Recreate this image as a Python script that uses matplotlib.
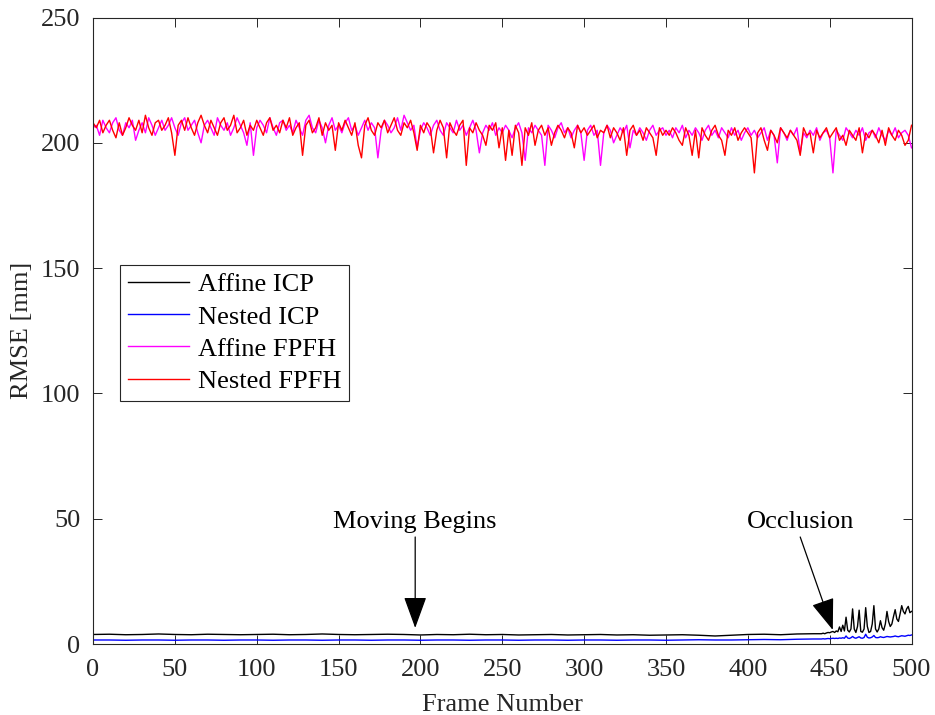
import numpy as np
import matplotlib
matplotlib.use("Agg")
import matplotlib.pyplot as plt

plt.rcParams['font.family'] = ['Liberation Serif', 'DejaVu Serif']

# ---------------- data ----------------
fpfh_frames = np.arange(0, 501, 2)

nested_fpfh = [
    208, 206, 209, 204, 207, 209, 205, 202, 208, 203, 206, 210, 207, 205, 209, 204, 211, 206, 203, 208, 209, 205, 207, 210, 204,
    195, 207, 209, 205, 210, 206, 203, 208, 211, 207, 204, 209, 206, 203, 208, 210, 205, 207, 211, 204, 206, 209, 203, 207, 205,
    209, 206, 203, 208, 210, 205, 207, 204, 209, 206, 210, 203, 206, 208, 195, 207, 209, 204, 206, 210, 203, 208, 205, 207, 197,
    208, 205, 209, 206, 203, 208, 199, 194, 207, 210, 205, 203, 208, 206, 209, 204, 207, 210, 205, 203, 208, 206, 209, 204, 197,
    207, 204, 208, 206, 196, 205, 209, 206, 194, 208, 205, 203, 207, 209, 191, 206, 204, 208, 205, 203, 199, 207, 205, 208, 198,
    206, 193, 205, 195, 207, 204, 191, 206, 203, 208, 199, 205, 207, 203, 206, 199, 204, 207, 205, 202, 206, 204, 198, 207, 204,
    206, 203, 205, 207, 202, 205, 204, 207, 202, 206, 204, 201, 206, 195, 205, 207, 203, 205, 201, 206, 204, 202, 195, 206, 203,
    205, 203, 206, 204, 201, 199, 206, 203, 195, 205, 194, 206, 203, 201, 205, 207, 203, 201, 195, 205, 203, 206, 201, 204, 206,
    204, 202, 188, 204, 206, 201, 197, 205, 203, 200, 206, 204, 202, 205, 203, 201, 195, 206, 203, 204, 196, 205, 202, 204, 206,
    202, 204, 206, 201, 203, 199, 205, 203, 201, 206, 196, 204, 202, 205, 203, 200, 205, 199, 206, 203, 201, 205, 203, 199, 201,
    207,
]

affine_fpfh = [
    206, 207, 203, 209, 206, 204, 208, 210, 205, 203, 208, 206, 209, 201, 205, 208, 204, 210, 207, 203, 206, 209, 205, 207, 210,
    206, 203, 208, 210, 205, 207, 209, 204, 200, 207, 209, 206, 203, 210, 207, 205, 208, 203, 206, 210, 207, 204, 199, 208, 195,
    206, 209, 207, 204, 210, 206, 203, 208, 209, 205, 207, 204, 209, 206, 203, 209, 211, 206, 204, 209, 206, 200, 207, 210, 205,
    207, 204, 208, 210, 205, 207, 203, 206, 209, 205, 208, 206, 194, 205, 209, 207, 204, 206, 210, 205, 211, 208, 205, 207, 198,
    205, 208, 206, 203, 207, 209, 205, 203, 208, 206, 204, 209, 205, 207, 203, 206, 209, 205, 196, 204, 207, 205, 208, 203, 206,
    204, 207, 205, 202, 206, 208, 204, 193, 206, 204, 207, 205, 203, 191, 207, 205, 202, 206, 208, 204, 206, 202, 205, 207, 204,
    193, 205, 207, 203, 205, 191, 204, 207, 205, 200, 203, 206, 204, 207, 198, 205, 203, 206, 204, 201, 205, 207, 203, 205, 206,
    203, 205, 202, 206, 204, 207, 202, 205, 203, 206, 204, 201, 205, 207, 203, 205, 202, 206, 204, 202, 206, 203, 205, 201, 204,
    206, 203, 205, 202, 204, 206, 201, 205, 203, 192, 206, 204, 201, 205, 203, 206, 196, 204, 202, 205, 203, 206, 201, 204, 205,
    202, 188, 205, 203, 201, 206, 204, 202, 205, 203, 206, 201, 204, 205, 202, 206, 203, 201, 205, 203, 206, 202, 204, 205, 203,
    198,
]

icp_frames = list(range(0, 441, 10)) + list(range(445, 501))

affine_icp = [
    3.8, 3.9, 3.7, 3.8, 4.0, 3.8, 3.7, 3.9, 3.8, 3.7, 3.8, 3.9, 3.7, 3.8, 4.0, 3.8, 3.7, 3.8, 3.9, 3.8,
    3.6, 3.8, 3.7, 3.9, 3.7, 3.8, 3.6, 3.7, 3.8, 3.6, 3.7, 3.8, 3.6, 3.7, 3.5, 3.6, 3.7, 3.5, 3.2, 3.5,
    3.8, 3.9, 3.7, 4.0, 4.1,
    4.1, 4.3, 4.1, 4.4, 4.6, 4.5, 4.8, 5.0, 4.6, 5.2, 4.9, 6.8, 5.0, 7.5, 5.2, 10.7, 5.5, 4.8, 6.0, 14.0,
    6.0, 4.6, 7.0, 13.5, 5.0, 4.7, 6.0, 14.5, 7.0, 4.6, 5.0, 8.0, 15.3, 6.0, 4.8, 6.0, 9.3, 6.5, 5.5, 8.0,
    13.0, 9.0, 7.0, 8.0, 11.0, 13.7, 10.0, 9.0, 12.0, 15.3, 13.0, 12.0, 14.0, 15.0, 12.5, 13.0,
]

nested_icp = [
    1.6, 1.6, 1.5, 1.6, 1.6, 1.5, 1.6, 1.6, 1.5, 1.6, 1.6, 1.5, 1.6, 1.6, 1.5, 1.6, 1.6, 1.5, 1.6, 1.6,
    1.5, 1.6, 1.6, 1.5, 1.6, 1.6, 1.5, 1.6, 1.6, 1.5, 1.6, 1.6, 1.5, 1.6, 1.6, 1.5, 1.6, 1.7, 1.6, 1.6,
    1.7, 1.8, 1.7, 1.9, 2.0,
    2.0, 2.1, 2.0, 2.1, 2.2, 2.1, 2.2, 2.3, 2.2, 2.3, 2.2, 2.4, 2.3, 2.5, 2.3, 3.2, 2.4, 2.2, 2.5, 3.0,
    2.5, 2.3, 2.6, 2.9, 2.4, 2.3, 2.6, 3.9, 2.7, 2.4, 2.5, 2.8, 3.4, 2.6, 2.5, 2.6, 2.9, 2.7, 2.6, 2.8,
    3.0, 2.9, 2.8, 2.9, 3.0, 3.2, 3.0, 2.9, 3.1, 3.3, 3.2, 3.1, 3.3, 3.5, 3.4, 3.6,
]

series_labels = ['Affine ICP', 'Nested ICP', 'Affine FPFH', 'Nested FPFH']
series_colors = ['black', '#0000ff', '#ff00ff', '#ff0000']

x_ticks = [0, 50, 100, 150, 200, 250, 300, 350, 400, 450, 500]
y_ticks = [0, 50, 100, 150, 200, 250]

annotations = [
    ('Moving Begins', (196.8, 6.4), (196.8, 48.6), (196.8, 42.7)),
    ('Occlusion', (451.9, 5.6), (432.0, 48.6), (432.0, 42.7)),
]

# ---------------- plot ----------------
fig = plt.figure(figsize=(9.35, 7.15), dpi=100)
ax = fig.add_axes([0.0995, 0.0993, 0.8754, 0.8762])

fs = 19
lw = 1.0
ax.plot(icp_frames, affine_icp, color=series_colors[0], lw=lw, label=series_labels[0])
ax.plot(icp_frames, nested_icp, color=series_colors[1], lw=lw, label=series_labels[1])
ax.plot(fpfh_frames, affine_fpfh, color=series_colors[2], lw=lw, label=series_labels[2])
ax.plot(fpfh_frames, nested_fpfh, color=series_colors[3], lw=lw, label=series_labels[3])

ax.set_xlim(0, 500)
ax.set_ylim(0, 250)
ax.set_xticks(x_ticks)
ax.set_yticks(y_ticks)
ax.tick_params(direction='in', length=6.5, width=0.7, top=True, right=True,
               labelsize=fs, colors='#262626', labelcolor='#262626')
ax.tick_params(axis='y', pad=9)
ax.tick_params(axis='x', pad=11)
for s in ax.spines.values():
    s.set_linewidth(0.8)
    s.set_color('#262626')

ax.set_xlabel('Frame Number', fontsize=fs, color='#262626', labelpad=9)
ax.set_ylabel('RMSE [mm]', fontsize=fs, color='#262626', labelpad=6)

for text, tip, txt_pos, tail in annotations:
    ax.text(txt_pos[0], txt_pos[1], text, fontsize=fs, ha='center', va='center', color='black')
    ax.annotate('', xy=tip, xytext=tail,
                arrowprops=dict(arrowstyle='-|>,head_length=1.1,head_width=0.4',
                                color='black', lw=0.9, shrinkA=0, shrinkB=0,
                                mutation_scale=18))

leg = ax.legend(loc='upper left', bbox_to_anchor=(0.033, 0.605), borderaxespad=0,
                fontsize=fs, fancybox=False, framealpha=1, edgecolor='#262626',
                handlelength=2.3, handletextpad=0.35, labelspacing=0.33,
                borderpad=0.3)
leg.get_frame().set_linewidth(0.8)

fig.savefig('out.png', dpi=100)
